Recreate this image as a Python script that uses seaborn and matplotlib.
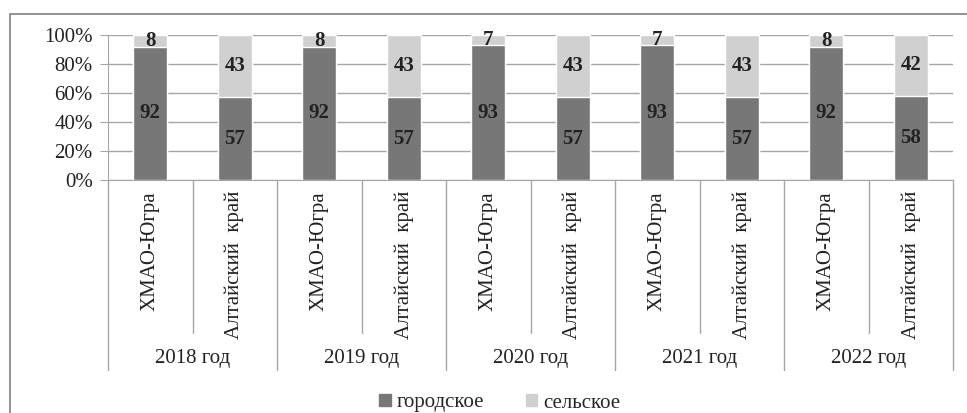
import matplotlib.pyplot as plt
import matplotlib.patches as mpatches
from matplotlib.lines import Line2D
import seaborn as sns
import pandas as pd

# --- data ---
years = ['2018 год', '2019 год', '2020 год', '2021 год', '2022 год']
regions = ['ХМАО-Югра', 'Алтайский  край']
urban = [92, 57, 92, 57, 93, 57, 93, 57, 92, 58]
rural = [8, 43, 8, 43, 7, 43, 7, 43, 8, 42]

DARK = '#777777'
LIGHT = '#d0d0d0'
GRID = '#a6a6a6'
TXT = '#222222'

sns.set_style('white')
plt.rcParams['font.family'] = ['Liberation Serif', 'DejaVu Serif']
plt.rcParams['font.size'] = 15

keys = [f'{y}|{r}' for y in years for r in regions]
df = pd.DataFrame({'key': keys, 'urban': urban, 'rural': rural})
df['total'] = df['urban'] + df['rural']

fig = plt.figure(figsize=(9.67, 4.13), dpi=100)
W, H = 967, 413
ax = fig.add_axes([108 / W, 1 - 180 / H, (953 - 108) / W, (180 - 35) / H])

sns.barplot(data=df, x='key', y='total', color=LIGHT, width=0.4, ax=ax,
            saturation=1, errorbar=None, zorder=3)
sns.barplot(data=df, x='key', y='urban', color=DARK, width=0.4, ax=ax,
            saturation=1, errorbar=None, zorder=3)

ax.set_xlim(-0.5, len(keys) - 0.5)
ax.set_ylim(0, 100)
ax.set_yticks([0, 20, 40, 60, 80, 100])
ax.set_yticklabels([f'{v}%' for v in range(0, 101, 20)], color=TXT)
ax.set_xticks([])
ax.set_xlabel('')
ax.set_ylabel('')
ax.yaxis.grid(True, color=GRID, lw=1, zorder=0)
ax.set_axisbelow(True)
ax.tick_params(axis='y', length=6, color=GRID, left=True, pad=5)
for s in ['top', 'right']:
    ax.spines[s].set_visible(False)
ax.spines['left'].set_color(GRID)
ax.spines['bottom'].set_color(GRID)

# value labels
for i, (u, r) in enumerate(zip(urban, rural)):
    ax.text(i, u / 2, str(u), ha='center', va='center', fontweight='bold',
            color=TXT, zorder=5)
    ax.text(i, u + r / 2, str(r), ha='center', va='center', fontweight='bold',
            color=TXT, zorder=5)

# two-level category axis drawn below the plot
trans = ax.get_xaxis_transform()
y_sub = -(333 - 180) / (180 - 35)
y_year = -(370 - 180) / (180 - 35)
for i in range(len(keys) + 1):
    bottom = y_year if i % 2 == 0 else y_sub
    ax.add_line(Line2D([i - 0.5, i - 0.5], [0, bottom], transform=trans,
                       color=GRID, lw=1, clip_on=False))
for i, k in enumerate(keys):
    ax.text(i, -(191 - 180) / (180 - 35), k.split('|')[1], transform=trans,
            rotation=90, ha='center', va='top', color=TXT)
for j, y in enumerate(years):
    ax.text(2 * j + 0.5, -(358 - 180) / (180 - 35), y, transform=trans,
            ha='center', va='center', color=TXT)

# outer chart frame
fig.add_artist(mpatches.Rectangle((10 / W, -0.1), 1.0, (H - 14) / H + 0.1,
                                  transform=fig.transFigure, fill=False,
                                  edgecolor='#808080', lw=1.2, clip_on=False))

handles = [mpatches.Patch(color=DARK, label='городское'),
           mpatches.Patch(color=LIGHT, label='сельское')]
fig.legend(handles=handles, loc='center', bbox_to_anchor=(500 / W, 1 - 403 / H),
           ncol=2, frameon=False, handlelength=0.55, handleheight=0.55,
           handletextpad=0.3, columnspacing=2.0, fontsize=15)

fig.savefig('out.png', dpi=100)
